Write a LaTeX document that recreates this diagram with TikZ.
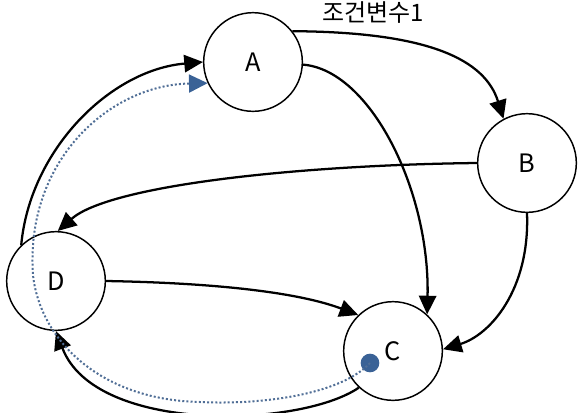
\documentclass[tikz,border=0pt]{standalone}
\usepackage{fontspec}
\setmainfont{Noto Sans CJK KR}
\usetikzlibrary{arrows.meta}
\definecolor{traceblue}{RGB}{80,110,150}
\definecolor{tipblue}{RGB}{58,98,150}
\begin{document}
\begin{tikzpicture}[x=0.75pt,y=-0.75pt,
  state/.style={circle,draw,line width=1.1pt,minimum size=74pt,inner sep=0pt,font=\fontsize{19}{20}\selectfont},
  conn/.style={line width=1.7pt,-{Triangle[length=14pt,width=13pt]}},
  trace/.style={line width=1.5pt,dash pattern=on 1.5pt off 1.6pt,draw=traceblue,-{Triangle[length=14pt,width=13.5pt,color=tipblue]}},
  lbl/.style={font=\fontsize{18}{19}\selectfont}]
\useasboundingbox (0,0) rectangle (581,412);
\node[state] (A) at (253,62) {A};
\node[state] (B) at (527,163) {B};
\node[state] (C) at (393,351) {C};
\node[state] (D) at (56,281) {D};
\node[lbl] (cond) at (373,13) {조건변수1};
\fill[tipblue] (370,363) circle[radius=7pt] coordinate (dot);
% edges
\draw[conn] (A.38) .. controls (430,32) and (485,60) .. (B.118);
\draw[conn] (A.-3) .. controls (370,70) and (430,190) .. (C.47);
\draw[conn] (B.180) .. controls (300,165) and (110,185) .. (D.88);
\draw[conn] (B.-90) .. controls (530,290) and (490,335) .. (C.2);
\draw[conn] (D.0) .. controls (220,283) and (300,293) .. (C.134);
\draw[conn] (C.227) .. controls (300,428) and (95,434) .. (D.-90);
\draw[conn] (D.134) .. controls (30,150) and (110,70) .. (A.180);
% trace
\draw[trace] (dot) .. controls (340,395) and (260,405) .. (200,402)
  .. controls (100,400) and (40,340) .. (33,275)
  .. controls (25,160) and (110,85) .. (A.205);
\end{tikzpicture}
\end{document}
